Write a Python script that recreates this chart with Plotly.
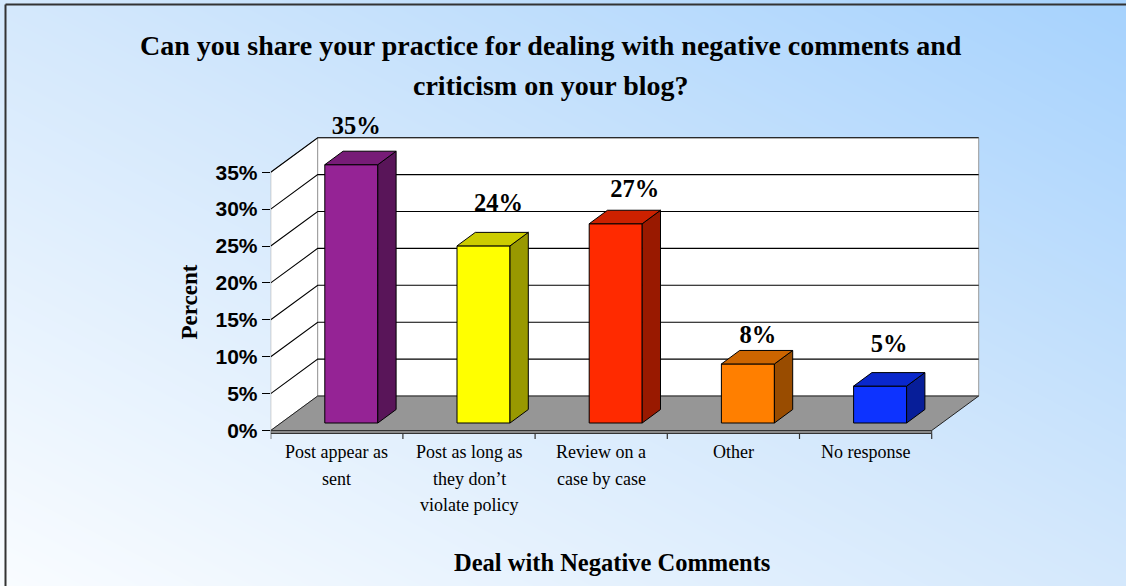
import plotly.graph_objects as go

# ---- data ----
categories = ["Post appear as<br>sent",
              "Post as long as<br>they don’t<br>violate policy",
              "Review on a<br>case by case",
              "Other",
              "No response"]
percent = [35, 24, 27, 8, 5]
y_ticks = [0, 5, 10, 15, 20, 25, 30, 35]
y_tick_text = [f"{t}%" for t in y_ticks]
bar_colors = ["#952395", "#ffff00", "#ff2a00", "#ff7f00", "#0d33ff"]

title_lines = ["Can you share your practice for dealing with negative comments and",
               "criticism on your blog?"]
y_title = "Percent"
x_title = "Deal with Negative Comments"

# ---- geometry (pixels of a 1126x586 canvas) ----
W, H = 1126, 586
PX_CAT = 132.2          # pixels per category slot
PX_PCT = 7.38           # pixels per percent
X0_PX = 270.7           # front-left corner of the floor
Y0_PX = 430.5           # front edge of the floor (0 %)
RIGHT_PX, TOP_PX, BOTTOM_PX = 1000.0, 105.0, 442.0

# oblique depth of the walls and of the bars (data units)
WDX, WDY = 47.0 / PX_CAT, 34.5 / PX_PCT
B_LEFT = -12.0 / PX_CAT
B_W = 53.0 / PX_CAT
B_BASE = 7.5 / PX_PCT
BDX, BDY = 18.3 / PX_CAT, 13.5 / PX_PCT
WALL_TOP = y_ticks[-1]

# hand-placed value labels: (dx, lift) in pixels from the bar's top-front corner
label_dx = [5, 15, 19, 10, 9]
label_lift = [37, 41, 33, 27, 40]

serif = "Liberation Serif"
sans = "Liberation Sans"


def shade(hex_color, k):
    h = hex_color.lstrip("#")
    r, g, b = (int(h[i:i + 2], 16) for i in (0, 2, 4))
    return "rgb({},{},{})".format(int(r * k), int(g * k), int(b * k))


def poly(xs, ys, fill, line_color, width=1.0):
    return go.Scatter(x=list(xs) + [xs[0]], y=list(ys) + [ys[0]], mode="lines",
                      fill="toself", fillcolor=fill,
                      line=dict(color=line_color, width=width),
                      xaxis="x2", yaxis="y2", hoverinfo="skip", showlegend=False)


fig = go.Figure()

# gradient backdrop filling the whole canvas
fig.add_trace(go.Heatmap(x=[0, 1], y=[0, 1], z=[[0, 0.5], [0.5, 1]], zsmooth="best",
                         colorscale=[[0, "#f9fcff"], [0.5, "#d4e8fc"], [1, "#a6d2fd"]],
                         showscale=False, hoverinfo="skip", xaxis="x", yaxis="y"))

n = len(categories)
xl, xr = -0.5, n - 0.5

# left wall and back wall
fig.add_trace(poly([xl, xl, xl + WDX, xl + WDX], [0, WALL_TOP, WALL_TOP + WDY, WDY],
                   "white", "#9a9a9a"))
fig.add_trace(poly([xl + WDX, xr + WDX, xr + WDX, xl + WDX],
                   [WDY, WDY, WALL_TOP + WDY, WALL_TOP + WDY], "white", "#9a9a9a"))

# gridlines running across both walls
gx, gy = [], []
for t in y_ticks[1:]:
    gx += [xl, xl + WDX, xr + WDX, None]
    gy += [t, t + WDY, t + WDY, None]
fig.add_trace(go.Scatter(x=gx, y=gy, mode="lines", line=dict(color="black", width=1.1),
                         xaxis="x2", yaxis="y2", hoverinfo="skip", showlegend=False))

# floor slab
band = 3.0 / PX_PCT
fig.add_trace(poly([xl, xr, xr + WDX, xl + WDX], [0, 0, WDY, WDY], "#969696", "#222"))
fig.add_trace(poly([xl, xr, xr, xl], [0, 0, -band, -band], "#8a8a8a", "#333"))

# category separators below the floor edge
tx, ty = [], []
for k in range(n + 1):
    tx += [xl + k, xl + k, None]
    ty += [-band, -band - 5.5 / PX_PCT, None]
fig.add_trace(go.Scatter(x=tx, y=ty, mode="lines", line=dict(color="#333", width=1.2),
                         xaxis="x2", yaxis="y2", hoverinfo="skip", showlegend=False))

# 3-D bars: front, side and top faces
for i, (v, c) in enumerate(zip(percent, bar_colors)):
    x0 = i + B_LEFT
    x1 = x0 + B_W
    y0 = B_BASE
    y1 = B_BASE + v
    fig.add_trace(poly([x0, x1, x1, x0], [y0, y0, y1, y1], c, "black"))
    fig.add_trace(poly([x1, x1 + BDX, x1 + BDX, x1],
                       [y0, y0 + BDY, y1 + BDY, y1], shade(c, 0.6), "black"))
    fig.add_trace(poly([x0, x1, x1 + BDX, x0 + BDX],
                       [y1, y1, y1 + BDY, y1 + BDY], shade(c, 0.8), "black"))

# value labels
fig.add_trace(go.Scatter(
    x=[i + B_LEFT + (B_W / 2) + label_dx[i] / PX_CAT for i in range(n)],
    y=[v + B_BASE + label_lift[i] / PX_PCT for i, v in enumerate(percent)],
    mode="text", text=[f"{v}%" for v in percent],
    textposition="middle center",
    textfont=dict(family=serif, size=24.5, color="black", weight="bold"),
    cliponaxis=False, xaxis="x2", yaxis="y2", hoverinfo="skip", showlegend=False))

annotations = []
# category labels, one annotation per line for looser leading
for i, lab in enumerate(categories):
    for k, line in enumerate(lab.split("<br>")):
        annotations.append(dict(x=i, xref="x2", y=1 - (452 + 26.7 * k) / H, yref="paper",
                                text=line, showarrow=False, xanchor="center", yanchor="middle",
                                font=dict(family=serif, size=18, color="black")))
for k, line in enumerate(title_lines):
    annotations.append(dict(x=550.5 / W, y=1 - (45 + 40 * k) / H, xref="paper", yref="paper",
                            text=line, showarrow=False, xanchor="center", yanchor="middle",
                            font=dict(family=serif, size=28, color="black", weight="bold")))
annotations.append(dict(x=189 / W, y=1 - 302.5 / H, xref="paper", yref="paper", text=y_title,
                        textangle=-90, showarrow=False, xanchor="center", yanchor="middle",
                        font=dict(family=serif, size=23, color="black", weight="bold")))
annotations.append(dict(x=612 / W, y=1 - 562 / H, xref="paper", yref="paper", text=x_title,
                        showarrow=False, xanchor="center", yanchor="middle",
                        font=dict(family=serif, size=24.5, color="black", weight="bold")))

x_range = [xl, xl + (RIGHT_PX - X0_PX) / PX_CAT]
y_range = [(Y0_PX - BOTTOM_PX) / PX_PCT, (Y0_PX - TOP_PX) / PX_PCT]

# chart frame: only its top and left edges fall inside the canvas
frame = [dict(type="line", xref="paper", yref="paper",
              x0=5.5 / W, y0=1 - 4.5 / H, x1=1, y1=1 - 4.5 / H,
              line=dict(color="#333", width=2)),
         dict(type="line", xref="paper", yref="paper",
              x0=5.5 / W, y0=1 - 4.5 / H, x1=5.5 / W, y1=0,
              line=dict(color="#333", width=2))]

fig.update_layout(
    width=W, height=H, margin=dict(l=0, r=0, t=0, b=0),
    paper_bgcolor="white", plot_bgcolor="rgba(0,0,0,0)",
    showlegend=False,
    xaxis=dict(domain=[0, 1], range=[0, 1], visible=False, fixedrange=True),
    yaxis=dict(domain=[0, 1], range=[0, 1], visible=False, fixedrange=True),
    xaxis2=dict(domain=[X0_PX / W, RIGHT_PX / W], range=x_range, anchor="y2",
                showgrid=False, zeroline=False, showline=False, showticklabels=False,
                ticks=""),
    yaxis2=dict(domain=[1 - BOTTOM_PX / H, 1 - TOP_PX / H], range=y_range, anchor="x2",
                showgrid=False, zeroline=False, showline=False,
                tickmode="array", tickvals=y_ticks, ticktext=y_tick_text,
                ticks="outside", ticklen=8, tickcolor="black", tickwidth=1,
                tickfont=dict(family=sans, size=21, color="black", weight="bold")),
    annotations=annotations,
    shapes=frame,
)

fig.write_html("out.html", config={"displayModeBar": False})
